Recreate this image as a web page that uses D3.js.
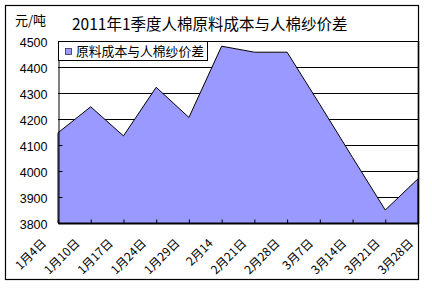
<!DOCTYPE html>
<html>
<head>
<meta charset="utf-8">
<script src="https://cdn.jsdelivr.net/npm/d3@7/dist/d3.min.js"></script>
<style>
  body { margin: 0; background: #fff; }
  svg { display: block; }
</style>
</head>
<body>
<svg width="432" height="291"></svg>
<script>
// chart data
var dates = ["1月4日", "1月10日", "1月17日", "1月24日", "1月29日", "2月14", "2月21日",
             "2月28日", "3月7日", "3月14日", "3月21日", "3月28日"];
var spread = [4147, 4247, 4135, 4322, 4206, 4480, 4457, 4457, 4256, 4052, 3850, 3970];
var yTicks = [3800, 3900, 4000, 4100, 4200, 4300, 4400, 4500];
var seriesName = "原料成本与人棉纱价差";
var title = "2011年1季度人棉原料成本与人棉纱价差";
var unit = "元/吨";

var svg = d3.select("svg");
var cjk = "'Noto Sans CJK SC', sans-serif";

// plot box (window.top is reserved, so no "top" here)
var pLeft = 58, pRight = 418, pTop = 41, pBottom = 223;

var x = d3.scalePoint().domain(dates).range([pLeft, pRight]);
var xLab = d3.scalePoint().domain(dates).range([47, 414]);  // rotated labels drift a bit
var y = d3.scaleLinear().domain([3800, 4500]).range([pBottom, pTop]);

// outer frame
svg.append("rect")
    .attr("x", 5.5).attr("y", 5.5)
    .attr("width", 413).attr("height", 274)
    .attr("fill", "#fff").attr("stroke", "#000").attr("stroke-width", 1.2);

// grid lines
svg.append("g")
  .selectAll("line")
  .data(yTicks)
  .enter().append("line")
    .attr("x1", pLeft).attr("x2", pRight)
    .attr("y1", function(d) { return Math.round(y(d)) + 0.5; })
    .attr("y2", function(d) { return Math.round(y(d)) + 0.5; })
    .attr("stroke", "#000").attr("stroke-width", 1);

// area
var area = d3.area()
    .x(function(d, i) { return x(dates[i]); })
    .y0(pBottom)
    .y1(function(d) { return y(d); });

svg.append("path")
    .datum(spread)
    .attr("d", area)
    .attr("fill", "#9999ff")
    .attr("stroke", "#000")
    .attr("stroke-width", 1)
    .attr("stroke-linejoin", "miter");

// axes
var yAxis = d3.axisLeft(y).tickValues(yTicks).tickSize(-4).tickPadding(11)
    .tickFormat(d3.format("d"));
var gy = svg.append("g")
    .attr("transform", "translate(" + (pLeft + 0.5) + ",0)")
    .call(yAxis);
gy.select(".domain").attr("stroke", "#000");
gy.selectAll(".tick line").attr("stroke", "#000");
gy.selectAll(".tick text")
    .attr("fill", "#000")
    .attr("dy", "0.45em")
    .style("font-family", "Arial, 'Liberation Sans', sans-serif")
    .style("font-size", "12.5px");

var xAxis = d3.axisBottom(x).tickSize(-4).tickFormat("");
var gx = svg.append("g")
    .attr("transform", "translate(0," + (pBottom + 0.5) + ")")
    .call(xAxis);
gx.select(".domain").attr("stroke", "#000");
gx.selectAll(".tick line").attr("stroke", "#000");

// right border of plot
svg.append("line")
    .attr("x1", pRight + 0.5).attr("x2", pRight + 0.5)
    .attr("y1", pTop).attr("y2", pBottom + 1)
    .attr("stroke", "#000").attr("stroke-width", 1.5);

// rotated category labels
svg.append("g")
  .selectAll("text")
  .data(dates)
  .enter().append("text")
    .attr("transform", function(d) { return "translate(" + xLab(d) + ",244) rotate(-45)"; })
    .attr("text-anchor", "end")
    .style("font-family", cjk)
    .style("font-size", "12px")
    .attr("fill", "#000")
    .text(function(d) { return d; });

// legend
var lg = svg.append("g");
lg.append("rect")
    .attr("x", pLeft + 0.5).attr("y", pTop + 0.5)
    .attr("width", 149).attr("height", 19)
    .attr("fill", "#fff").attr("stroke", "#000");
lg.append("rect")
    .attr("x", 65.5).attr("y", 48.5)
    .attr("width", 6).attr("height", 6)
    .attr("fill", "#9999ff").attr("stroke", "#333").attr("stroke-width", 0.8);
lg.append("text")
    .attr("x", 76).attr("y", 55.5)
    .style("font-family", cjk)
    .style("font-size", "13px")
    .attr("textLength", 128)
    .attr("lengthAdjust", "spacingAndGlyphs")
    .attr("fill", "#000")
    .text(seriesName);

// title and unit
svg.append("text")
    .attr("x", 72).attr("y", 30)
    .style("font-family", cjk)
    .style("font-size", "15.5px")
    .attr("fill", "#000")
    .text(title);

svg.append("text")
    .attr("x", 15).attr("y", 25)
    .style("font-family", cjk)
    .style("font-size", "13px")
    .attr("fill", "#000")
    .text(unit);
</script>
</body>
</html>
